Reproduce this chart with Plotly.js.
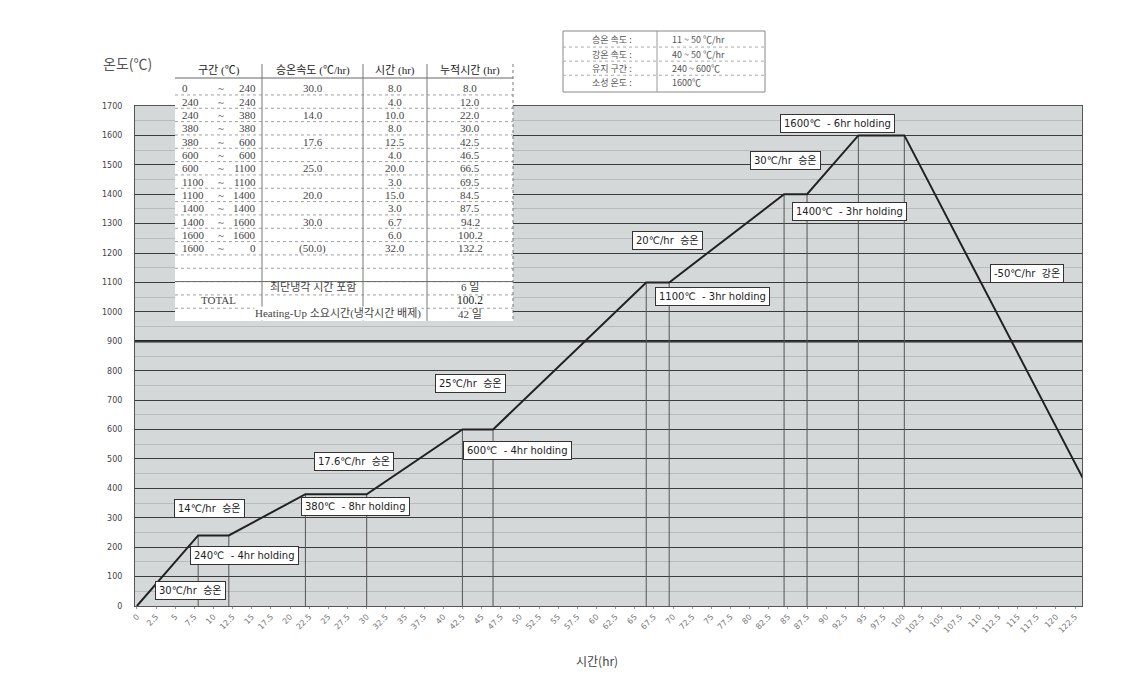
<!DOCTYPE html>
<html>
<head>
<meta charset="utf-8">
<script src="https://cdn.plot.ly/plotly-3.0.1.min.js"></script>
<style>html,body{margin:0;padding:0;background:#fff;}#chart{width:1144px;height:694px;}</style>
</head>
<body>
<div id="chart"></div>
<script>
// ---- firing schedule (time in hr, temperature in ℃) ----
const hours = [0, 8, 12, 22, 30, 42.5, 46.5, 66.5, 69.5, 84.5, 87.5, 94.2, 100.2, 132.2];
const temps = [0, 240, 240, 380, 380, 600, 600, 1100, 1100, 1400, 1400, 1600, 1600, 0];

// ---- x tick labels (every 2.5 hr) ----
const xTickVals = [];
for (let i = 0; i < 50; i++) xTickVals.push(i * 2.5);
const xTickText = xTickVals.map(v => String(v));

// ---- y ticks ----
const yTickVals = [0,100,200,300,400,500,600,700,800,900,1000,1100,1200,1300,1400,1500,1600,1700];

// ---- table (top-left) ----
const segStart = [0, 240, 240, 380, 380, 600, 600, 1100, 1100, 1400, 1400, 1600, 1600];
const segEnd   = [240, 240, 380, 380, 600, 600, 1100, 1100, 1400, 1400, 1600, 1600, 0];
const rates    = ["30.0", "", "14.0", "", "17.6", "", "25.0", "", "20.0", "", "30.0", "", "(50.0)"];
const durations = ["8.0", "4.0", "10.0", "8.0", "12.5", "4.0", "20.0", "3.0", "15.0", "3.0", "6.7", "6.0", "32.0"];
const cumulative = ["8.0", "12.0", "22.0", "30.0", "42.5", "46.5", "66.5", "69.5", "84.5", "87.5", "94.2", "100.2", "132.2"];
const tableHeader = ["구간 (℃)", "승온속도 (℃/hr)", "시간 (hr)", "누적시간 (hr)"];
const coolingNote = "최단냉각 시간 포함";
const coolingDays = "6 일";
const totalLabel = "TOTAL";
const totalHours = "100.2";
const heatingUpNote = "Heating-Up 소요시간(냉각시간 배제)";
const heatingUpDays = "42 일";

// ---- info box (top) ----
const infoLabels = ["승온 속도 :", "강온 속도 :", "유지 구간 :", "소성 온도 :"];
const infoValues = ["11 ~ 50 ℃/hr", "40 ~ 50 ℃/hr", "240 ~ 600℃", "1600℃"];

// ---- labels on the curve ----
const noteTexts = ["30℃/hr  승온", "240℃  - 4hr holding", "14℃/hr  승온", "380℃  - 8hr holding",
  "17.6℃/hr  승온", "600℃  - 4hr holding", "25℃/hr  승온", "1100℃  - 3hr holding",
  "20℃/hr  승온", "1400℃  - 3hr holding", "30℃/hr  승온", "1600℃  - 6hr holding", "-50℃/hr  강온"];
const noteX = [7.0, 14.0, 9.5, 28.6, 28.3, 49.7, 43.5, 75.1, 69.3, 93.1, 84.7, 91.5, 116.2];
const noteY = [54, 173, 330, 337, 493, 530, 758, 1051, 1244, 1340, 1513, 1642, 1129];

// ---- layout geometry ----
const W = 1144, H = 694;
const M = {l: 135, r: 62, t: 28, b: 88};
const plotTopPx = 106;
const pw = W - M.l - M.r, ph = H - M.t - M.b;
const px2x = p => (p - M.l) / pw;
const px2y = p => (H - M.b - p) / ph;

const shapes = [];
const annotations = [];

function txt(xp, yp, text, anchor, font, bg) {
  const a = {xref: "paper", yref: "paper", x: px2x(xp), y: px2y(yp), text: text, showarrow: false,
    xanchor: anchor, yanchor: "middle", font: font};
  if (bg) { a.bgcolor = bg; a.borderpad = 0; }
  annotations.push(a);
}
function hline(x0, x1, yp, color, width, dash) {
  shapes.push({type: "line", xref: "paper", yref: "paper", x0: px2x(x0), x1: px2x(x1), y0: px2y(yp), y1: px2y(yp),
    line: {color: color, width: width, dash: dash || "solid"}, layer: "above"});
}
function vline(xp, y0, y1, color, width, dash) {
  shapes.push({type: "line", xref: "paper", yref: "paper", x0: px2x(xp), x1: px2x(xp), y0: px2y(y0), y1: px2y(y1),
    line: {color: color, width: width, dash: dash || "solid"}, layer: "above"});
}
function rect(x0, y0, x1, y1, fill) {
  shapes.push({type: "rect", xref: "paper", yref: "paper", x0: px2x(x0), x1: px2x(x1), y0: px2y(y1), y1: px2y(y0),
    fillcolor: fill, line: {width: 0}, layer: "above"});
}

// ----- top-left table -----
const tFontNum = {family: "Liberation Serif, Noto Sans CJK KR, serif", size: 11, color: "#444"};
const tFontHead = {family: "Liberation Serif, Noto Sans CJK KR, serif", size: 11, color: "#222"};
const colEdges = [175, 262, 363, 427, 513];
const tTop = 62, headMid = 70, rowH = 13.33, firstRowMid = 88.3, tBottom = 321;
rect(colEdges[0], tTop, colEdges[4], tBottom, "#ffffff");
const nRows = 18;
for (let k = 0; k < nRows; k++) {
  const yl = firstRowMid + k * rowH + rowH / 2;
  if (yl < tBottom - 2) hline(colEdges[0], colEdges[4], yl, "#a0a0a0", 1, "dot");
}
hline(colEdges[0], colEdges[4], 78, "#666", 1, "solid");
hline(colEdges[0], colEdges[4], firstRowMid + 14.5 * rowH, "#666", 1, "solid");
for (let c = 1; c < colEdges.length; c++) vline(colEdges[c], 64, tBottom, "#777", 1, c === 4 ? "dot" : "solid");
for (let c = 0; c < 4; c++) txt((colEdges[c] + colEdges[c + 1]) / 2, headMid, tableHeader[c], "center", tFontHead);
segStart.forEach((s, i) => {
  const ym = firstRowMid + i * rowH;
  txt(180, ym, String(s), "left", tFontNum);
  txt(221, ym, "~", "center", tFontNum);
  txt(258, ym, String(segEnd[i]), "right", tFontNum);
  txt((colEdges[1] + colEdges[2]) / 2, ym, rates[i], "center", tFontNum);
  txt((colEdges[2] + colEdges[3]) / 2, ym, durations[i], "center", tFontNum);
  txt((colEdges[3] + colEdges[4]) / 2, ym, cumulative[i], "center", tFontNum);
});
const rCool = firstRowMid + 15 * rowH - 1.5, rTot = rCool + rowH, rHeat = rTot + rowH;
txt((colEdges[1] + colEdges[2]) / 2, rCool, coolingNote, "center", tFontNum);
txt((colEdges[3] + colEdges[4]) / 2, rCool, coolingDays, "center", tFontNum);
txt((colEdges[0] + colEdges[1]) / 2, rTot, totalLabel, "center", tFontNum);
txt((colEdges[3] + colEdges[4]) / 2, rTot, totalHours, "center", {family: tFontNum.family, size: 11.5, color: "#222"});
txt(338, rHeat, heatingUpNote, "center", tFontNum, "#ffffff");
txt((colEdges[3] + colEdges[4]) / 2, rHeat, heatingUpDays, "center", tFontNum);

// ----- info box -----
const iFont = {family: "Noto Sans CJK KR, sans-serif", size: 9, color: "#555"};
const iLeft = 563, iRight = 765, iTop = 31, iBottom = 92, iDiv = 657, iRowH = 14.1, iFirst = 40;
rect(iLeft, iTop, iRight, iBottom, "#ffffff");
shapes.push({type: "rect", xref: "paper", yref: "paper", x0: px2x(iLeft), x1: px2x(iRight), y0: px2y(iBottom), y1: px2y(iTop),
  line: {color: "#888", width: 1}, layer: "above"});
vline(iDiv, iTop, iBottom, "#999", 1, "solid");
for (let k = 1; k < infoLabels.length; k++) hline(iLeft, iRight, iFirst + (k - 0.5) * iRowH, "#aaa", 1, "dot");
infoLabels.forEach((l, i) => {
  txt(612, iFirst + i * iRowH, l, "center", iFont);
  txt(670, iFirst + i * iRowH, infoValues[i], "left", iFont);
});

// ----- titles -----
txt(127, 63, "온도(℃)", "center", {family: "Noto Sans CJK KR, sans-serif", size: 14, color: "#555"});
txt(597, 660, "시간(hr)", "center", {family: "Noto Sans CJK KR, sans-serif", size: 12, color: "#444"});

// ----- labels on curve -----
noteTexts.forEach((t, i) => annotations.push({
  x: noteX[i], y: noteY[i], xref: "x", yref: "y", text: t, showarrow: false,
  bgcolor: "#fff", bordercolor: "#333", borderwidth: 1, borderpad: 3,
  font: {family: "DejaVu Sans, Noto Sans CJK KR, sans-serif", size: 10, color: "#222"}
}));

// thick line at 900
shapes.push({type: "line", xref: "paper", yref: "y", x0: 0, x1: 1, y0: 900, y1: 900, line: {color: "#222", width: 2.5}, layer: "below"});

// drop lines from each inner point
const dropX = [], dropY = [];
for (let i = 1; i < hours.length - 1; i++) {
  dropX.push(hours[i], hours[i], null);
  dropY.push(0, temps[i], null);
}

const traces = [
  {type: "scatter", mode: "lines", x: dropX, y: dropY, line: {color: "#555", width: 1}, hoverinfo: "skip", showlegend: false},
  {type: "scatter", mode: "lines", x: hours, y: temps, line: {color: "#222", width: 2}, showlegend: false}
];

const layout = {
  width: W, height: H,
  margin: M,
  paper_bgcolor: "#fff",
  plot_bgcolor: "#d5d8d8",
  showlegend: false,
  xaxis: {
    range: [-0.25, 123.4],
    tickmode: "array", tickvals: xTickVals, ticktext: xTickText, tickangle: -45,
    tickfont: {family: "DejaVu Sans, sans-serif", size: 8, color: "#777"},
    showgrid: false, zeroline: false,
    showline: true, linecolor: "#555", linewidth: 1, mirror: true,
    ticks: "outside", ticklen: 2, tickcolor: "#999"
  },
  yaxis: {
    domain: [0, px2y(plotTopPx)],
    range: [0, 1700],
    tickmode: "array", tickvals: yTickVals, ticktext: yTickVals.map(String),
    tickfont: {family: "DejaVu Sans, sans-serif", size: 8, color: "#444"},
    showgrid: true, gridcolor: "#3a3a3a", gridwidth: 1,
    minor: {dtick: 50, showgrid: true, gridcolor: "#b8bcbc", gridwidth: 1},
    zeroline: false,
    showline: true, linecolor: "#555", linewidth: 1, mirror: true,
    ticks: "", ticklabelstandoff: 10
  },
  shapes: shapes,
  annotations: annotations
};

Plotly.newPlot("chart", traces, layout, {displayModeBar: false, staticPlot: true});
</script>
</body>
</html>
